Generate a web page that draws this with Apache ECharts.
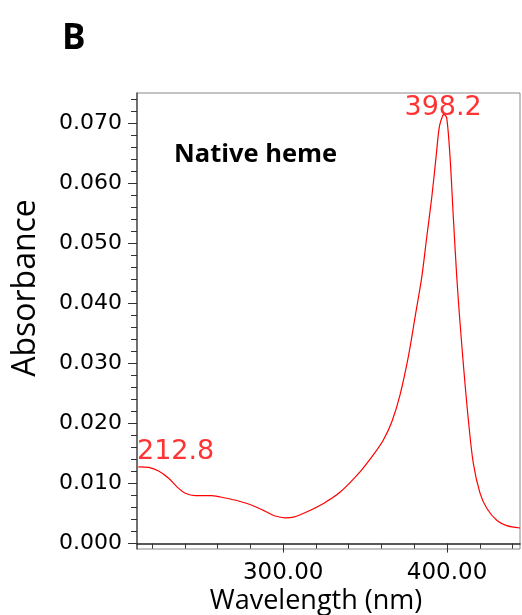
<!DOCTYPE html>
<html>
<head>
<meta charset="utf-8">
<script src="https://cdn.jsdelivr.net/npm/echarts@6/dist/echarts.min.js"></script>
<style>html,body{margin:0;padding:0;background:#fff;}#c{width:522px;height:615px;}</style>
</head>
<body>
<div id="c"></div>
<script>
// Wavelength (nm)
var wavelengths = [211.6,217.9,224.0,230.1,236.2,240.2,246.3,256.5,264.6,272.7,280.9,289.0,295.1,301.2,306.3,314.5,324.6,334.8,347.0,356.1,361.2,366.3,371.3,376.4,380.5,384.6,387.6,390.7,393.3,395.3,397.4,398.2,399.8,401.8,403.8,405.9,407.9,410.4,413.0,416.0,420.1,424.2,430.3,436.4,444.5];
// Absorbance
var absorbance = [0.0128,0.0127,0.0121,0.0109,0.0092,0.0084,0.0080,0.0080,0.0076,0.0071,0.0064,0.0054,0.0046,0.0043,0.0044,0.0053,0.0067,0.0086,0.0120,0.0152,0.0173,0.0203,0.0248,0.0312,0.0378,0.0445,0.0511,0.0578,0.0645,0.0695,0.0714,0.0715,0.0709,0.0645,0.0545,0.0445,0.0368,0.0284,0.0206,0.0134,0.0084,0.0059,0.0039,0.0030,0.0026];
// Peak annotations
var peakWavelengths = [212.8, 398.2];
var peakAbsorbance = [0.0128, 0.0715];
// Tick values
var xMajorTicks = [300, 400];
var xMinorTicks = [220,240,260,280,300,320,340,360,380,400,420,440];
var yMajorTicks = [0,0.01,0.02,0.03,0.04,0.05,0.06,0.07];
var yMinorTicks = [0,0.002,0.004,0.006,0.008,0.01,0.012,0.014,0.016,0.018,0.02,0.022,0.024,0.026,0.028,0.03,0.032,0.034,0.036,0.038,0.04,0.042,0.044,0.046,0.048,0.05,0.052,0.054,0.056,0.058,0.06,0.062,0.064,0.066,0.068,0.07,0.072,0.074];

var xMin = 210.8, xMax = 444.5, yMin = -0.0009, yMax = 0.0751;

var chart = echarts.init(document.getElementById('c'), null, {renderer: 'canvas'});
var lineData = wavelengths.map(function (w, i) { return [w, absorbance[i]]; });
var peakData = peakWavelengths.map(function (w, i) { return [w, peakAbsorbance[i]]; });

chart.setOption({
  animation: false,
  backgroundColor: '#fff',
  title: [
    {text: 'B', left: 62, top: 22, padding: 0, textStyle: {fontFamily: 'Open Sans', fontWeight: 'bold', fontSize: 35, color: '#000'}},
    {text: 'Native heme', left: 174, top: 142, padding: 0, textStyle: {fontFamily: 'Open Sans', fontWeight: 'bold', fontSize: 25.5, color: '#000'}}
  ],
  grid: {left: 137, right: 2, top: 93, bottom: 66, show: true, borderColor: '#888', borderWidth: 1, backgroundColor: 'transparent',
    containLabel: false, outerBoundsMode: 'none'},
  xAxis: [
    {
      type: 'value', min: xMin, max: xMax, position: 'bottom',
      name: 'Wavelength (nm)', nameLocation: 'middle', nameGap: 39, nameMoveOverlap: false,
      nameTextStyle: {fontFamily: 'Open Sans', fontSize: 27, color: '#000', padding: [0, 25, 0, 0]},
      axisLine: {show: true, lineStyle: {color: '#222', width: 1.5}},
      axisTick: {show: true, customValues: xMajorTicks, length: 9, lineStyle: {color: '#333'}},
      axisLabel: {show: true, customValues: xMajorTicks, margin: 13, fontFamily: 'DejaVu Sans', fontSize: 23, color: '#000',
        formatter: function (v) { return v.toFixed(2); }},
      splitLine: {show: false}
    },
    {
      type: 'value', min: xMin, max: xMax, position: 'bottom', gridIndex: 0,
      axisLine: {show: false},
      axisTick: {show: true, customValues: xMinorTicks, length: 5, lineStyle: {color: '#333'}},
      axisLabel: {show: false},
      splitLine: {show: false}
    }
  ],
  yAxis: [
    {
      type: 'value', min: yMin, max: yMax, position: 'left',
      name: 'Absorbance', nameLocation: 'middle', nameGap: 95, nameMoveOverlap: false,
      nameTextStyle: {fontFamily: 'Open Sans', fontSize: 32, color: '#000', padding: [0, 0, 0, 66]},
      axisLine: {show: true, lineStyle: {color: '#555', width: 1.5}},
      axisTick: {show: true, customValues: yMajorTicks, length: 9, lineStyle: {color: '#333'}},
      axisLabel: {show: true, customValues: yMajorTicks, margin: 15, fontFamily: 'DejaVu Sans', fontSize: 22, color: '#000',
        formatter: function (v) { return v.toFixed(3); }},
      splitLine: {show: false}
    },
    {
      type: 'value', min: yMin, max: yMax, position: 'left', gridIndex: 0,
      axisLine: {show: false},
      axisTick: {show: true, customValues: yMinorTicks, length: 6, lineStyle: {color: '#333'}},
      axisLabel: {show: false},
      splitLine: {show: false}
    }
  ],
  series: [
    {
      type: 'line', data: lineData, smooth: 0.3, showSymbol: false, symbol: 'none',
      lineStyle: {color: '#ff0000', width: 1.2}, xAxisIndex: 0, yAxisIndex: 0, z: 3
    },
    {
      type: 'scatter', data: peakData, symbolSize: 0, xAxisIndex: 0, yAxisIndex: 0,
      label: {
        show: true, color: '#ff0000', fontFamily: 'DejaVu Sans', fontSize: 27,
        formatter: function (p) { return p.value[0].toFixed(1); },
        position: 'top'
      },
      labelLayout: function (params) {
        if (params.dataIndex === 0) {
          return {x: 137, y: params.rect.y - 1, align: 'left', verticalAlign: 'bottom'};
        }
        return {x: params.rect.x - 1, y: params.rect.y + 7, align: 'center', verticalAlign: 'bottom'};
      },
      z: 4
    }
  ]
});
</script>
</body>
</html>
